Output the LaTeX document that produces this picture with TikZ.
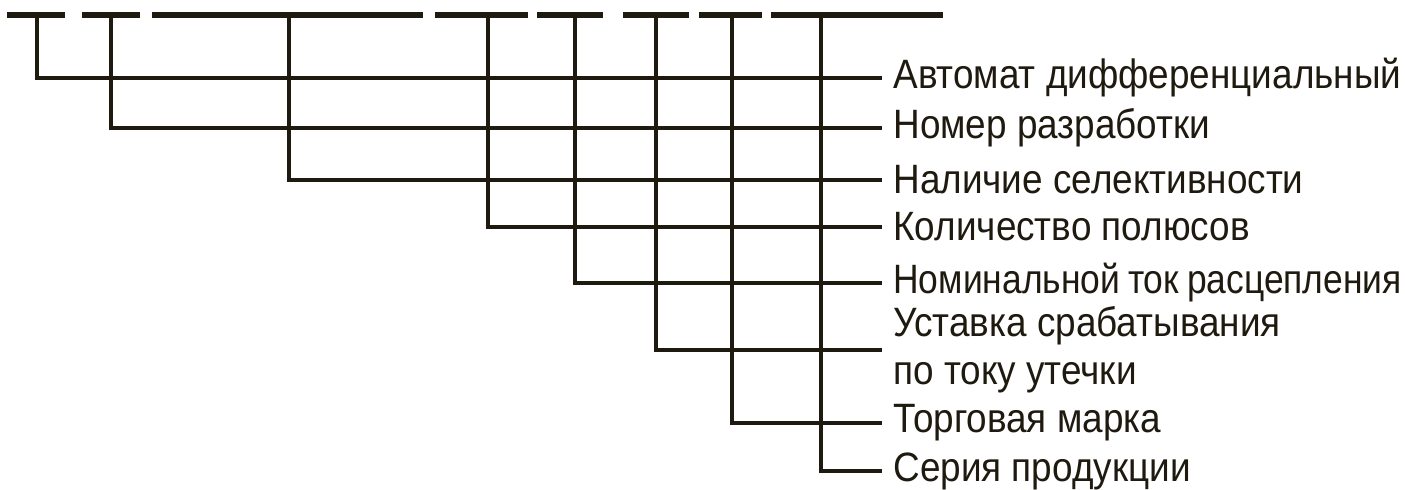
\documentclass[tikz,border=0pt]{standalone}
\usepackage{fontspec}
\setmainfont{Liberation Sans}[FakeStretch=0.9]
\usepackage{graphicx}
\usepackage{tikz}
\usetikzlibrary{positioning}
\usepackage{xcolor}
\definecolor{inkbrown}{HTML}{1F1A10}

\begin{document}
\begin{tikzpicture}[x=0.5pt, y=-0.5pt,
    codeBar/.style={draw=inkbrown, line width=3pt},
    leaderLine/.style={draw=inkbrown, line width=1.7pt},
    fieldLabel/.style={anchor=west, inner xsep=5.5pt, inner ysep=0pt, text=inkbrown, font=\fontsize{20.5}{24}\selectfont, align=left}
]
    \useasboundingbox (0,0) rectangle (1405,489);

    % code segments along the top
    \draw[codeBar] (7,15) -- (65,15);
    \draw[codeBar] (82,15) -- (140,15);
    \draw[codeBar] (152,15) -- (423,15);
    \draw[codeBar] (435,15) -- (528,15);
    \draw[codeBar] (537,15) -- (603,15);
    \draw[codeBar] (623,15) -- (689,15);
    \draw[codeBar] (699,15) -- (762,15);
    \draw[codeBar] (771,15) -- (943,15);

    \coordinate (s1) at (37,15);
    \coordinate (s2) at (111,15);
    \coordinate (s3) at (289,15);
    \coordinate (s4) at (488,15);
    \coordinate (s5) at (575,15);
    \coordinate (s6) at (656,15);
    \coordinate (s7) at (732,15);
    \coordinate (s8) at (821,15);

    % field descriptions
    \node[fieldLabel] (f1) at (882,78) {Автомат дифференциальный};
    \node[fieldLabel] (f2) at (882,128) {Номер разработки};
    \node[fieldLabel] (f3) at (882,180) {Наличие селективности};
    \node[fieldLabel] (f4) at (882,227) {Количество полюсов};
    \node[fieldLabel] (f5) at (882,283) {\scalebox{0.96}[1]{Номинальной\hspace{0.2em}ток\hspace{0.2em}расцепления}};
    \node[fieldLabel] (f6) at (882,350) {Уставка срабатывания\\по току утечки};
    \node[fieldLabel] (f7) at (882,423) {Торговая марка};
    \node[fieldLabel] (f8) at (882,471) {Серия продукции};

    \foreach \i in {1,...,8}
        \draw[leaderLine] (s\i) |- (f\i.west);
\end{tikzpicture}
\end{document}
